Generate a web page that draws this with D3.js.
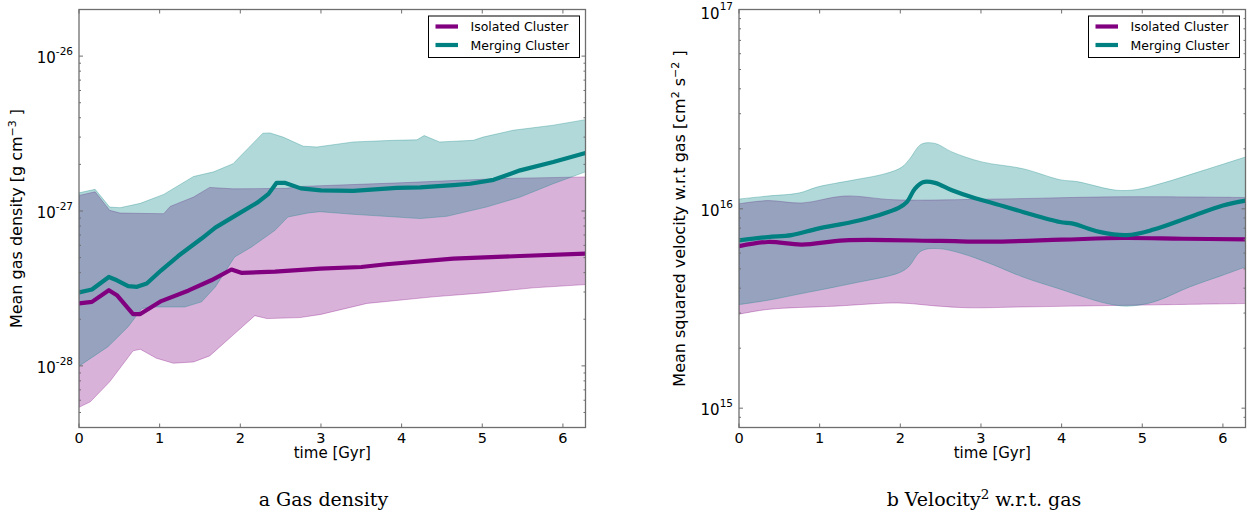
<!DOCTYPE html>
<html>
<head>
<meta charset="utf-8">
<script src="https://cdn.jsdelivr.net/npm/d3@7"></script>
<style>
  html, body { margin: 0; padding: 0; background: #fff; }
  svg { display: block; }
  text { font-family: "DejaVu Sans", sans-serif; fill: #000; }
  .caption { font-family: "DejaVu Serif", serif; }
</style>
</head>
<body>
<svg id="chart" width="1248" height="514"></svg>
<script>
// Time axis (Gyr) and series, one [time, value] pair per snapshot.
const timeTicks = [0, 1, 2, 3, 4, 5, 6];
const seriesNames = ["Isolated Cluster", "Merging Cluster"];
const seriesColors = ["#800080", "#008080"];
const panelCaptions = ["a Gas density", "b Velocity"];

// Mean gas density [g cm^-3]
const densityIsolatedMean = [[0,2.53e-28],[0.16,2.59e-28],[0.37,3.08e-28],[0.47,2.86e-28],[0.67,2.16e-28],[0.76,2.16e-28],[1.02,2.62e-28],[1.36,3.07e-28],[1.64,3.57e-28],[1.89,4.19e-28],[2.02,3.98e-28],[2.43,4.06e-28],[2.99,4.25e-28],[3.5,4.35e-28],[3.81,4.53e-28],[4.64,4.93e-28],[5.47,5.12e-28],[6.28,5.31e-28]];
const densityIsolatedLow = [[0,5.4e-29],[0.14,5.86e-29],[0.38,7.89e-29],[0.67,1.25e-28],[0.76,1.28e-28],[0.96,1.12e-28],[1.17,1.04e-28],[1.42,1.06e-28],[1.62,1.16e-28],[1.91,1.58e-28],[2.18,2.11e-28],[2.33,2.02e-28],[2.74,2.05e-28],[3.0,2.15e-28],[3.57,2.53e-28],[4.39,2.79e-28],[5.01,2.96e-28],[5.63,3.19e-28],[6.28,3.35e-28]];
const densityIsolatedHigh = [[0,1.26e-27],[0.2,1.33e-27],[0.38,1.01e-27],[0.51,9.7e-28],[1.05,9.6e-28],[1.13,1.07e-27],[1.42,1.23e-27],[1.62,1.42e-27],[1.91,1.39e-27],[2.57,1.40e-27],[2.74,1.44e-27],[3.98,1.52e-27],[5.22,1.62e-27],[6.28,1.66e-27]];
const densityMergingMean = [[0,2.98e-28],[0.16,3.11e-28],[0.37,3.75e-28],[0.47,3.57e-28],[0.61,3.27e-28],[0.72,3.24e-28],[0.84,3.40e-28],[1.02,4.14e-28],[1.23,5.12e-28],[1.52,6.64e-28],[1.69,7.81e-28],[1.98,9.62e-28],[2.22,1.14e-27],[2.35,1.29e-27],[2.45,1.52e-27],[2.55,1.52e-27],[2.75,1.40e-27],[3.0,1.36e-27],[3.4,1.35e-27],[3.94,1.41e-27],[4.23,1.42e-27],[4.64,1.47e-27],[4.85,1.50e-27],[5.14,1.59e-27],[5.47,1.83e-27],[5.88,2.07e-27],[6.28,2.37e-27]];
const densityMergingLow = [[0,9.96e-29],[0.36,1.33e-28],[0.61,1.79e-28],[0.78,2.35e-28],[0.94,2.40e-28],[1.31,2.40e-28],[1.52,2.59e-28],[1.69,3.23e-28],[1.93,5.05e-28],[2.14,5.86e-28],[2.43,7.5e-28],[2.59,9.14e-28],[2.84,9.71e-28],[2.99,9.9e-28],[3.4,9.52e-28],[4.23,8.94e-28],[4.56,9.24e-28],[5.05,1.06e-27],[5.47,1.23e-27],[5.88,1.50e-27],[6.28,1.79e-27]];
const densityMergingHigh = [[0,1.31e-27],[0.2,1.38e-27],[0.38,1.06e-27],[0.51,1.05e-27],[0.76,1.12e-27],[1.05,1.28e-27],[1.42,1.67e-27],[1.67,1.79e-27],[1.91,2.02e-27],[2.28,3.18e-27],[2.37,3.19e-27],[2.53,3.0e-27],[2.78,2.62e-27],[2.95,2.59e-27],[3.4,2.79e-27],[3.9,2.86e-27],[4.19,2.88e-27],[4.28,3.07e-27],[4.47,2.79e-27],[4.89,2.86e-27],[5.01,3.0e-27],[5.38,3.32e-27],[5.88,3.58e-27],[6.28,3.89e-27]];

// Mean squared velocity w.r.t. gas [cm^2 s^-2]
const velocityIsolatedMean = [[0,6.49e15],[0.36,6.82e15],[0.78,6.62e15],[1.31,6.95e15],[2.5,6.9e15],[3.11,6.85e15],[4.0,7.0e15],[4.76,7.14e15],[5.5,7.08e15],[6.28,7.03e15]];
const velocityIsolatedLow = [[0,2.96e15],[0.36,3.13e15],[1.19,3.25e15],[1.98,3.37e15],[2.43,3.26e15],[2.84,3.19e15],[3.52,3.22e15],[4.76,3.28e15],[6.28,3.35e15]];
const velocityIsolatedHigh = [[0,1.06e16],[0.36,1.10e16],[0.78,1.07e16],[1.31,1.16e16],[1.93,1.11e16],[3.17,1.12e16],[4.76,1.15e16],[6.28,1.14e16]];
const velocityMergingMean = [[0,6.95e15],[0.36,7.22e15],[0.65,7.38e15],[0.98,7.96e15],[1.40,8.59e15],[1.73,9.29e15],[1.98,1.01e16],[2.08,1.08e16],[2.18,1.26e16],[2.28,1.36e16],[2.43,1.35e16],[2.64,1.24e16],[2.93,1.13e16],[3.11,1.08e16],[3.52,9.65e15],[3.98,8.59e15],[4.14,8.43e15],[4.47,7.66e15],[4.81,7.38e15],[5.14,7.87e15],[5.59,9.10e15],[6.0,1.04e16],[6.28,1.10e16]];
const velocityMergingLow = [[0,3.31e15],[0.36,3.48e15],[0.78,3.76e15],[1.40,4.22e15],[1.98,4.77e15],[2.10,5.11e15],[2.26,6.15e15],[2.47,6.32e15],[2.76,5.97e15],[3.11,5.32e15],[3.52,4.55e15],[4.02,3.91e15],[4.27,3.62e15],[4.56,3.35e15],[4.81,3.25e15],[5.14,3.41e15],[5.59,4.06e15],[6.0,4.65e15],[6.28,5.11e15]];
const velocityMergingHigh = [[0,1.12e16],[0.36,1.16e16],[0.74,1.20e16],[0.98,1.29e16],[1.40,1.39e16],[1.81,1.50e16],[2.02,1.62e16],[2.12,1.79e16],[2.26,2.11e16],[2.43,2.13e16],[2.64,1.93e16],[3.01,1.72e16],[3.52,1.59e16],[3.98,1.40e16],[4.19,1.37e16],[4.68,1.24e16],[4.93,1.25e16],[5.26,1.35e16],[5.76,1.56e16],[6.28,1.82e16]];

const svg = d3.select("#chart");

const panels = [
  {
    left: 79, right: 585.5, top: 9.5, bottom: 427.5,
    yDomain: [4e-29, 2e-26], expMin: -28, expMax: -26,
    expText: e => "-" + Math.abs(e),
    ylabel: [["Mean gas density [g cm", false], ["\u22123", true], [" ]", false]],
    ylabelOffset: 57,
    curve: d3.curveLinear,
    means: [densityIsolatedMean, densityMergingMean],
    lows: [densityIsolatedLow, densityMergingLow],
    highs: [densityIsolatedHigh, densityMergingHigh],
    caption: [[panelCaptions[0], false]],
    captionX: 323.5
  },
  {
    left: 739, right: 1245.5, top: 9.5, bottom: 427.5,
    yDomain: [8e14, 1e17], expMin: 15, expMax: 17,
    expText: e => String(e),
    ylabel: [["Mean squared velocity w.r.t gas [cm", false], ["2", true], [" s", false], ["\u22122", true], [" ]", false]],
    ylabelOffset: 54,
    curve: d3.curveCatmullRom.alpha(0.5),
    means: [velocityIsolatedMean, velocityMergingMean],
    lows: [velocityIsolatedLow, velocityMergingLow],
    highs: [velocityIsolatedHigh, velocityMergingHigh],
    caption: [[panelCaptions[1], false], ["2", true], [" w.r.t. gas", false]],
    captionX: 984
  }
];

panels.forEach((p, pi) => {
  const x = d3.scaleLinear().domain([0, 6.28]).range([p.left, p.right]);
  const y = d3.scaleLog().domain(p.yDomain).range([p.bottom, p.top]);
  const g = svg.append("g");
  const clipId = "clip" + pi;
  svg.append("clipPath").attr("id", clipId)
    .append("rect").attr("x", p.left).attr("y", p.top)
    .attr("width", p.right - p.left).attr("height", p.bottom - p.top);

  const line = d3.line().x(d => x(d[0])).y(d => y(d[1])).curve(p.curve);
  const plot = g.append("g").attr("clip-path", `url(#${clipId})`);

  // spread bands: isolated first, merging on top
  [0, 1].forEach(i => {
    const upper = line(p.highs[i]);
    const lower = line(p.lows[i].slice().reverse()).replace(/^M/, "L");
    plot.append("path")
      .attr("d", upper + lower + "Z")
      .attr("fill", seriesColors[i]).attr("fill-opacity", 0.3)
      .attr("stroke", seriesColors[i]).attr("stroke-opacity", 0.3)
      .attr("stroke-width", 1);
  });
  // mean curves
  [0, 1].forEach(i => {
    plot.append("path")
      .attr("d", line(p.means[i]))
      .attr("fill", "none").attr("stroke", seriesColors[i])
      .attr("stroke-width", 4.2).attr("stroke-linejoin", "round");
  });

  // frame
  const axisColor = "#6e6e6e";
  g.append("rect").attr("x", p.left).attr("y", p.top)
    .attr("width", p.right - p.left).attr("height", p.bottom - p.top)
    .attr("fill", "none").attr("stroke", axisColor).attr("stroke-width", 1.3);

  // x ticks (inward, bottom and top)
  timeTicks.forEach(t => {
    const xp = x(t);
    g.append("line").attr("x1", xp).attr("x2", xp).attr("y1", p.bottom).attr("y2", p.bottom - 4)
      .attr("stroke", axisColor);
    g.append("line").attr("x1", xp).attr("x2", xp).attr("y1", p.top).attr("y2", p.top + 4)
      .attr("stroke", axisColor);
    g.append("text").attr("x", xp).attr("y", p.bottom + 15.2)
      .attr("text-anchor", "middle").attr("font-size", 14.5).text(t);
  });

  // y ticks: decades and minor log ticks, inward on both sides
  for (let e = p.expMin - 1; e <= p.expMax; e++) {
    for (let m = 1; m <= 9; m++) {
      const v = m * Math.pow(10, e);
      if (v < p.yDomain[0] * 0.999 || v > p.yDomain[1] * 1.001) continue;
      const yp = y(v);
      const len = m === 1 ? 4 : 2;
      g.append("line").attr("x1", p.left).attr("x2", p.left + len).attr("y1", yp).attr("y2", yp)
        .attr("stroke", axisColor);
      g.append("line").attr("x1", p.right).attr("x2", p.right - len).attr("y1", yp).attr("y2", yp)
        .attr("stroke", axisColor);
      if (m === 1) {
        // a label sitting on the top edge is nudged down to stay on the page
        const nudge = yp - p.top < 2 ? 2 : 0;
        const t = g.append("text").attr("x", p.left - 6).attr("y", yp + 7.3 + nudge)
          .attr("text-anchor", "end").attr("font-size", 15);
        t.append("tspan").text("10");
        t.append("tspan").attr("dy", -8.5).attr("font-size", 10.5).text(p.expText(e));
      }
    }
  }

  // axis titles
  g.append("text").attr("x", (p.left + p.right) / 2).attr("y", p.bottom + 30)
    .attr("text-anchor", "middle").attr("font-size", 15).text("time [Gyr]");

  const yl = g.append("text")
    .attr("transform", `translate(${p.left - p.ylabelOffset},${(p.top + p.bottom) / 2}) rotate(-90)`)
    .attr("text-anchor", "middle").attr("font-size", 16);
  p.ylabel.forEach(([s, sup], k) => {
    const ts = yl.append("tspan").text(s);
    if (sup) ts.attr("dy", -6.5).attr("font-size", 11);
    else if (k > 0) ts.attr("dy", 6.5);
  });

  // legend
  const lx = p.right - 157, ly = 16;
  g.append("rect").attr("x", lx).attr("y", ly).attr("width", 151).attr("height", 41.5)
    .attr("fill", "#fff").attr("stroke", "#000").attr("stroke-width", 1);
  seriesNames.forEach((name, i) => {
    const yy = ly + 10.5 + i * 18.5;
    g.append("line").attr("x1", lx + 7).attr("x2", lx + 29.5).attr("y1", yy).attr("y2", yy)
      .attr("stroke", seriesColors[i]).attr("stroke-width", 4.2);
    g.append("text").attr("x", lx + 42).attr("y", yy + 4.5)
      .attr("font-size", 12.5).text(name);
  });

  // caption
  const cap = g.append("text").attr("class", "caption")
    .attr("x", p.captionX).attr("y", 506)
    .attr("text-anchor", "middle").attr("font-size", 19);
  p.caption.forEach(([s, sup], k) => {
    const ts = cap.append("tspan").text(s);
    if (sup) ts.attr("dy", -7.5).attr("font-size", 13.5);
    else if (k > 0) ts.attr("dy", 7.5);
  });
});
</script>
</body>
</html>
